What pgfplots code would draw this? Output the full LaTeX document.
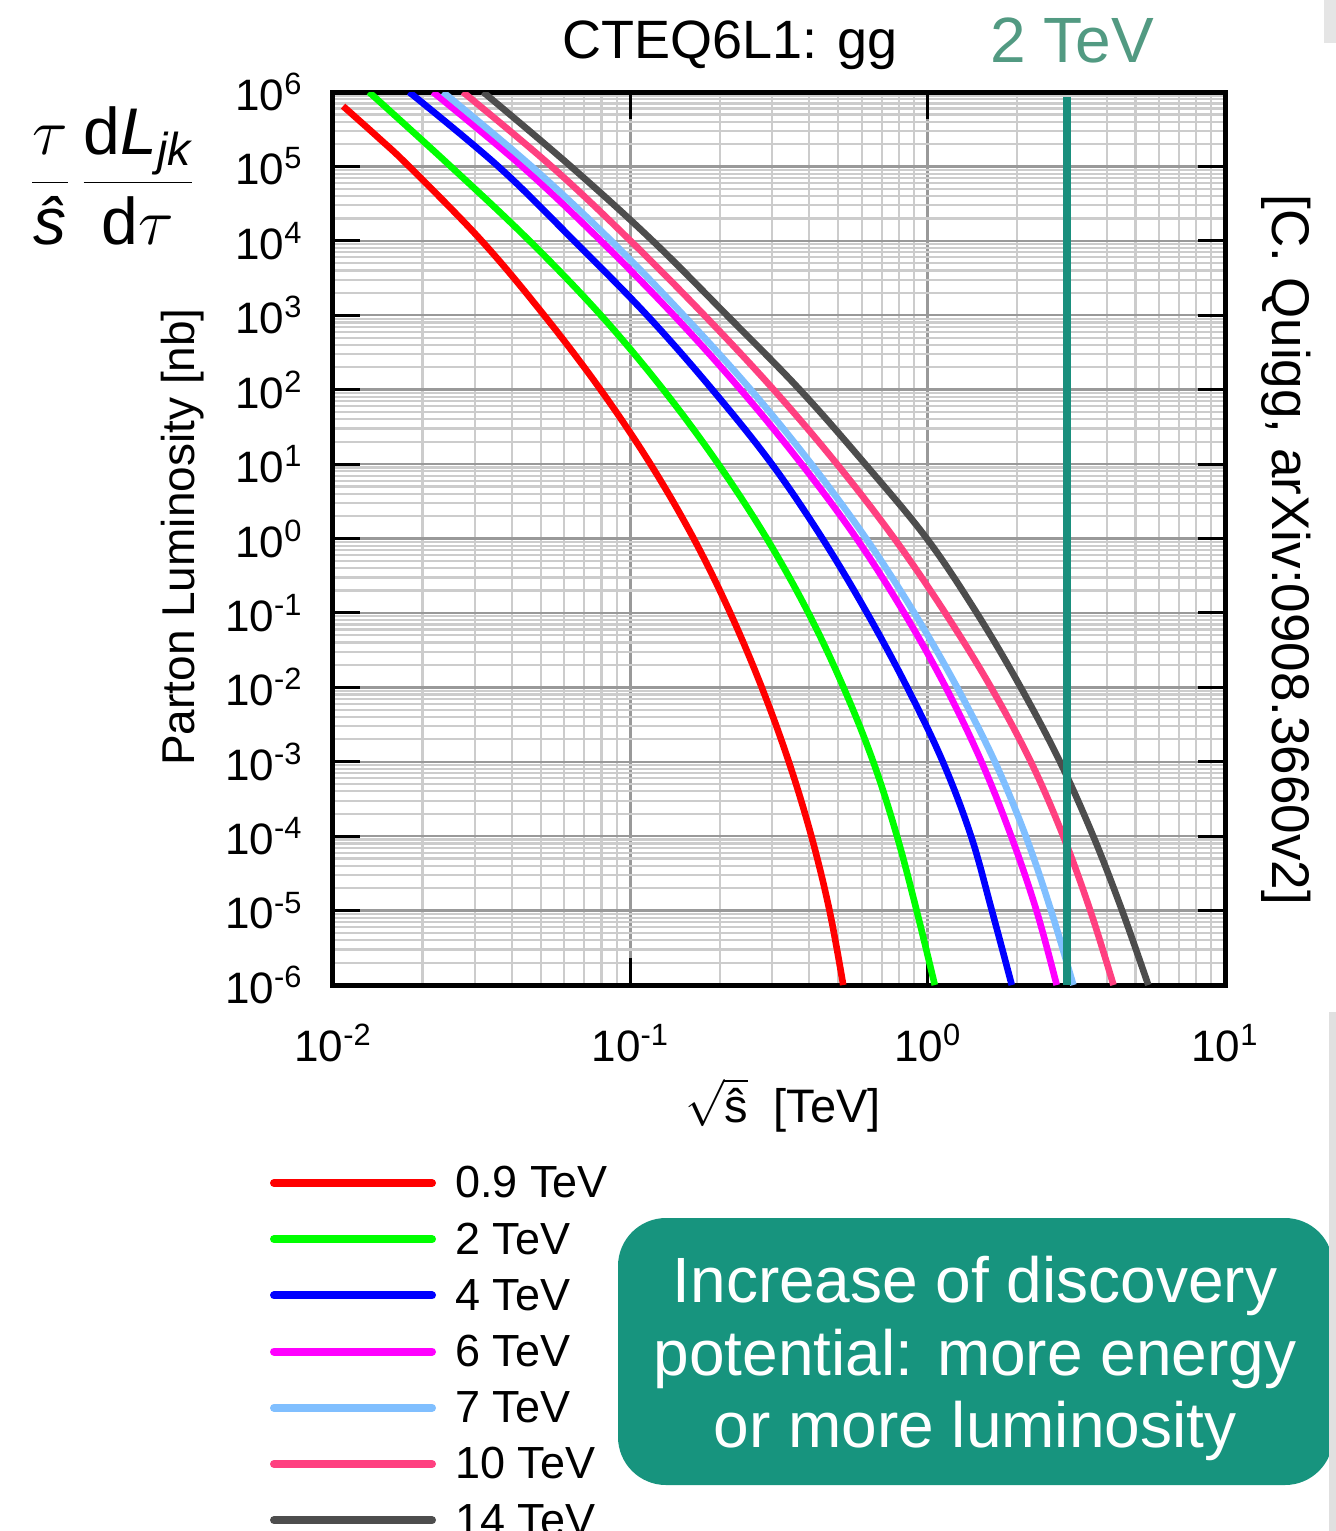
\RequirePackage{fix-cm}
\documentclass[border=0pt]{standalone}
\usepackage{amsmath}
\usepackage{fontspec}
\setmainfont{Liberation Sans}
\usepackage{pgfplots}
\pgfplotsset{compat=1.18}
\definecolor{cRed}{HTML}{FF0000}
\definecolor{cGreen}{HTML}{00FF00}
\definecolor{cBlue}{HTML}{0000FF}
\definecolor{cMag}{HTML}{FF00FF}
\definecolor{cLB}{HTML}{80BFFF}
\definecolor{cPink}{HTML}{FF4080}
\definecolor{cDark}{HTML}{4D4D4D}
\definecolor{cTeal}{HTML}{1A8F7D}
\definecolor{cBox}{HTML}{17947E}
\definecolor{cTealText}{HTML}{529A82}
\pgfplotsset{curve/.style={#1, line width=3.3pt, line join=round, smooth, tension=0.6}}
\begin{document}
\begin{tikzpicture}
\path[use as bounding box] (0pt,0pt) rectangle (668pt,-765.5pt);
\begin{axis}[
  at={(166.5pt,-492.5pt)}, anchor=south west,
  scale only axis, width=446pt, height=446.5pt,
  xmode=log, ymode=log,
  xmin=0.01, xmax=10, ymin=1e-6, ymax=1e6,
  xtick={0.01,0.1,1,10},
  xticklabels={10\textsuperscript{-2},10\textsuperscript{-1},10\textsuperscript{0},10\textsuperscript{1}},
  ytick={1e-6,1e-5,1e-4,1e-3,1e-2,1e-1,1,10,100,1000,1e4,1e5,1e6},
  yticklabels={10\textsuperscript{-6},10\textsuperscript{-5},10\textsuperscript{-4},10\textsuperscript{-3},10\textsuperscript{-2},10\textsuperscript{-1},10\textsuperscript{0},10\textsuperscript{1},10\textsuperscript{2},10\textsuperscript{3},10\textsuperscript{4},10\textsuperscript{5},10\textsuperscript{6}},
  grid=both,
  major grid style={black!40, line width=1.2pt},
  minor grid style={black!20, line width=1.1pt},
  axis line style={line width=2.5pt},
  major tick length=13.5pt, minor tick length=0pt,
  tick style={black, line width=1.5pt},
  tick align=inside,
  tick label style={font=\fontsize{22}{26}\selectfont},
  xticklabel style={anchor=north, inner sep=0pt, yshift=-19.5pt},
  yticklabel style={anchor=east, inner sep=0pt, xshift=-15pt},
  legend cell align=left,
  legend style={at={(-0.0706,-0.2004)}, anchor=north west, draw=none, fill=none,
    inner sep=0pt, outer sep=0pt, row sep=7.1pt, column sep=9.5pt,
    font=\fontsize{22.5}{27}\selectfont,
    nodes={inner sep=0pt, text height=17pt, text depth=4pt}},
  legend image code/.code={\draw[#1, line width=4pt, line cap=round] (2pt,1pt) -- (81pt,1pt);},
]
\addplot[curve=cRed] coordinates {(0.01081,645700) (0.01409,251200) (0.01803,1e5) (0.03162,1e4) (0.05129,1e3) (0.07943,1e2) (0.1169,10) (0.1633,1) (0.2168,0.1) (0.2767,1e-2) (0.3412,1e-3) (0.4064,1e-4) (0.4677,1e-5) (0.5200,1e-6)};
\addlegendentry{0.9 TeV}
\addplot[curve=cGreen] coordinates {(0.01321,1e6) (0.02489,1e5) (0.04581,1e4) (0.07962,1e3) (0.1291,1e2) (0.1977,10) (0.2877,1) (0.3972,0.1) (0.5212,1e-2) (0.6561,1e-3) (0.7889,1e-4) (0.9183,1e-5) (1.0568,1e-6)};
\addlegendentry{2 TeV}
\addplot[curve=cBlue] coordinates {(0.01803,1e6) (0.03597,1e5) (0.06471,1e4) (0.1138,1e3) (0.1888,1e2) (0.2992,10) (0.4426,1) (0.6252,0.1) (0.8531,1e-2) (1.1246,1e-3) (1.3996,1e-4) (1.6444,1e-5) (1.9187,1e-6)};
\addlegendentry{4 TeV}
\addplot[curve=cMag] coordinates {(0.02168,1e6) (0.04325,1e5) (0.07962,1e4) (0.1400,1e3) (0.2350,1e2) (0.3767,10) (0.5768,1) (0.8337,0.1) (1.1508,1e-2) (1.5171,1e-3) (1.9099,1e-4) (2.3227,1e-5) (2.7164,1e-6)};
\addlegendentry{6 TeV}
\addplot[curve=cLB] coordinates {(0.02344,1e6) (0.04656,1e5) (0.08630,1e4) (0.1510,1e3) (0.2541,1e2) (0.4064,10) (0.6209,1) (0.9016,0.1) (1.2560,1e-2) (1.6827,1e-3) (2.1380,1e-4) (2.6002,1e-5) (3.0903,1e-6)};
\addlegendentry{7 TeV}
\addplot[curve=cPink] coordinates {(0.02735,1e6) (0.05433,1e5) (0.1002,1e4) (0.1774,1e3) (0.3034,1e2) (0.4955,10) (0.7727,1) (1.1455,0.1) (1.6331,1e-2) (2.2233,1e-3) (2.8576,1e-4) (3.5237,1e-5) (4.2170,1e-6)};
\addlegendentry{10 TeV}
\addplot[curve=cDark] coordinates {(0.03199,1e6) (0.06310,1e5) (0.1189,1e4) (0.2113,1e3) (0.3715,1e2) (0.6166,10) (0.9931,1) (1.4622,0.1) (2.0558,1e-2) (2.7861,1e-3) (3.6058,1e-4) (4.5082,1e-5) (5.5208,1e-6)};
\addlegendentry{14 TeV}
\addplot[cTeal, line width=3.6pt, forget plot] coordinates {(2.94,1e-6) (2.94,8.5e5)};
\end{axis}
\begin{scope}[x=0.5pt,y=-0.5pt]
\node[rotate=90, font=\fontsize{23}{27}\selectfont] at (183,537) {Parton Luminosity [nb]};
\node[rotate=-90, font=\fontsize{26.5}{30}\selectfont] at (1286,550) {[C. Quigg, arXiv:0908.3660v2]};
\node[anchor=base, font=\fontsize{27}{32}\selectfont] at (730,58) {CTEQ6L1: gg};
\node[anchor=base, font=\fontsize{32}{36}\selectfont, text=cTealText] at (1072,62) {2 TeV};
\node[font=\fontsize{23.5}{28}\selectfont] at (783,1105) {$\sqrt{\text{ŝ}}$\; [TeV]};
\node[anchor=base, font=\fontsize{33}{40}\selectfont] at (112,199) {$\displaystyle\frac{\tau}{\text{\textit{ŝ}}}\,\frac{\text{d}\textit{L}_{\textit{jk}}}{\text{d}\tau}$};
\fill[cBox, rounded corners=24pt] (618,1218) rectangle (1333,1485);
\node[anchor=base, text=white, font=\fontsize{32}{36}\selectfont] at (975,1302) {Increase of discovery};
\node[anchor=base, text=white, font=\fontsize{32}{36}\selectfont] at (975,1375) {potential: more energy};
\node[anchor=base, text=white, font=\fontsize{32}{36}\selectfont] at (975,1447) {or more luminosity};
\fill[black!12] (1329,1012) rectangle (1336,1531);
\fill[black!10] (1324,0) rectangle (1336,43);
\end{scope}
\end{tikzpicture}
\end{document}
